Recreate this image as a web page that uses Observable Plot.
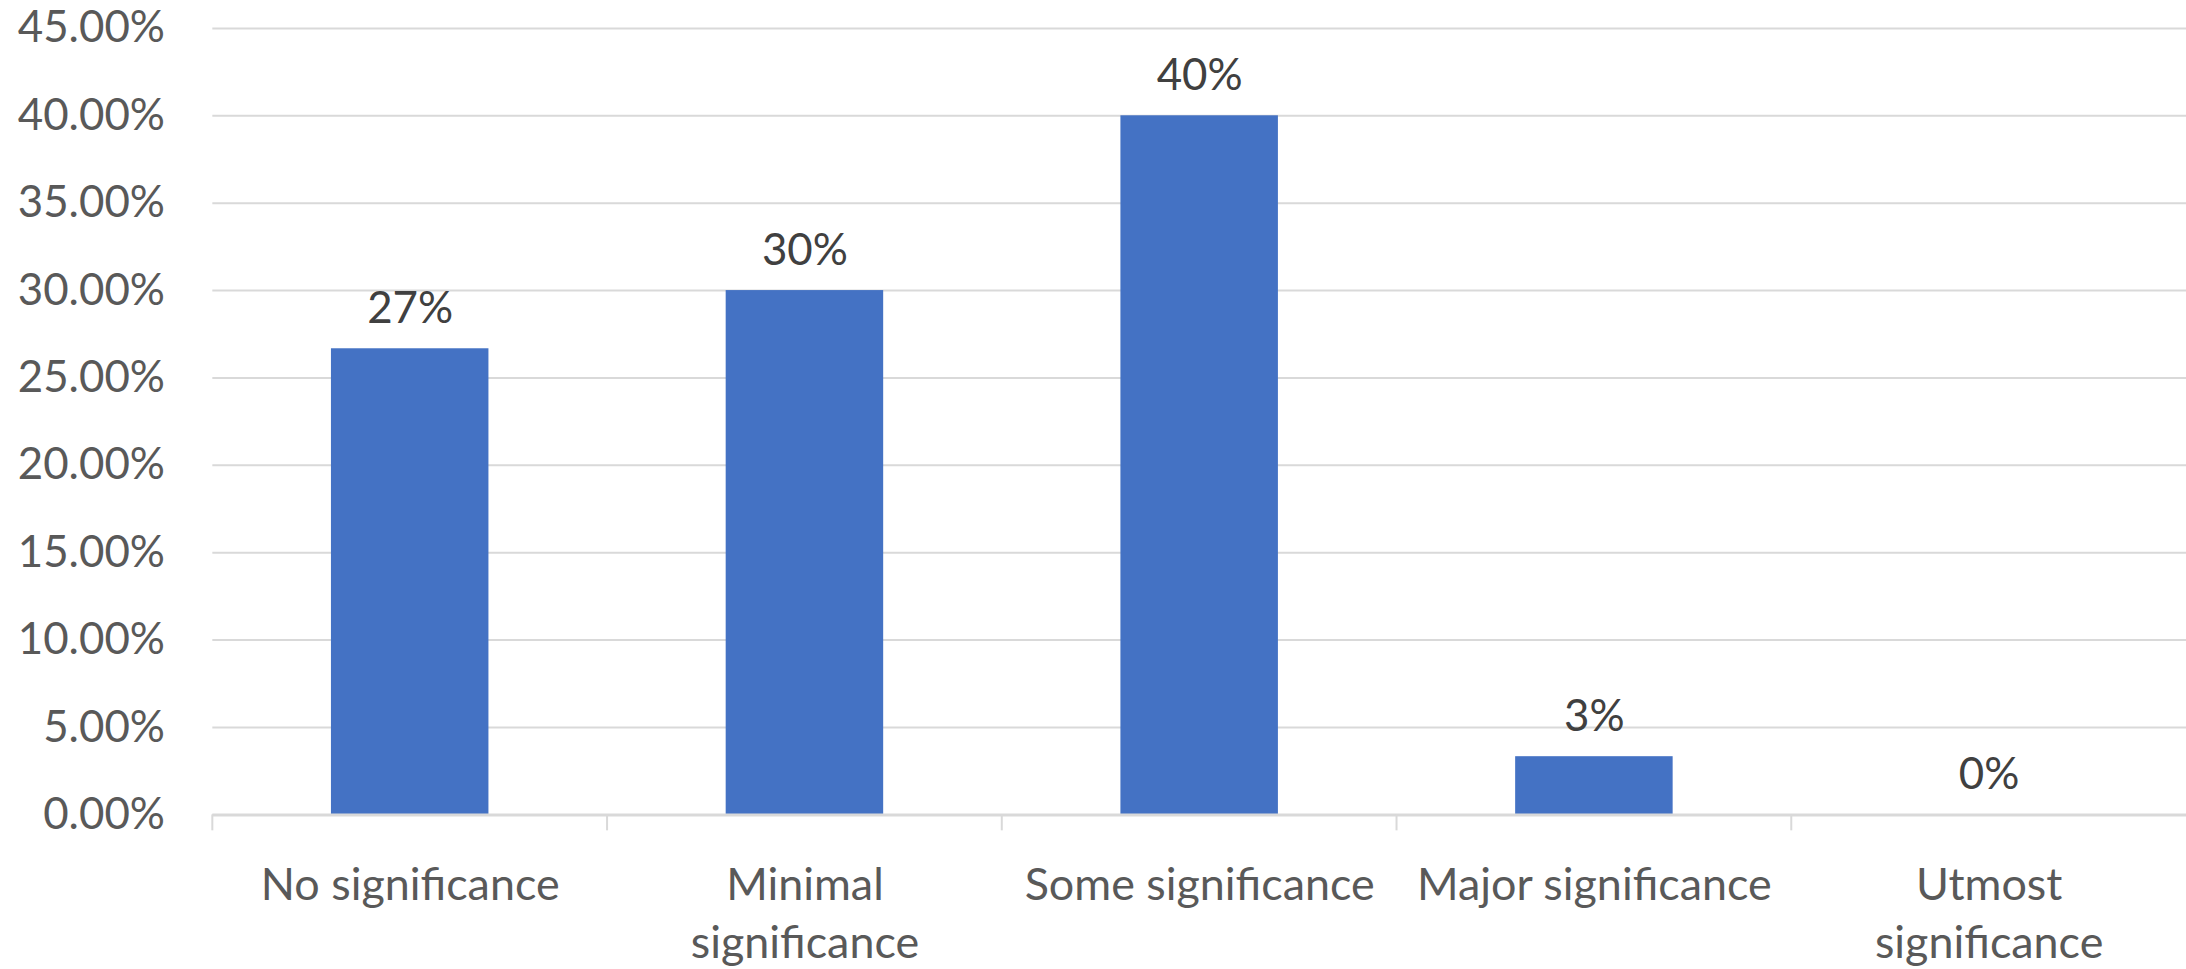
<!DOCTYPE html>
<html>
<head>
<meta charset="utf-8">
<script src="https://cdn.jsdelivr.net/npm/d3@7"></script>
<script src="https://cdn.jsdelivr.net/npm/@observablehq/plot@0.6"></script>
<style>
  html, body { margin: 0; padding: 0; background: #ffffff; overflow: hidden; }
  #chart { width: 2186px; height: 969px; overflow: hidden; }
</style>
</head>
<body>
<div id="chart"></div>
<script>
const categories = ["No significance", "Minimal significance", "Some significance", "Major significance", "Utmost significance"];
const categoryLabels = ["No significance", "Minimal\nsignificance", "Some significance", "Major significance", "Utmost\nsignificance"];
const shares = [0.2667, 0.30, 0.40, 0.0333, 0];
const dataLabels = ["27%", "30%", "40%", "3%", "0%"];
const yTicks = [0, 0.05, 0.10, 0.15, 0.20, 0.25, 0.30, 0.35, 0.40, 0.45];

const data = categories.map((c, i) => ({category: c, share: shares[i], label: dataLabels[i]}));
const labelOf = new Map(categories.map((c, i) => [c, categoryLabels[i]]));

const FONT = "Lato, 'Open Sans', sans-serif";

// category-boundary tick marks (Excel style: ticks between categories)
const boundaryTicks = Plot.ruleX(categories, {
  x: d => d,
  render: (index, scales, values, dimensions) => {
    const xs = scales.x;
    const bw = typeof xs.bandwidth === "function" ? xs.bandwidth() : scales.scales.x.bandwidth;
    const step = typeof xs.step === "function" ? xs.step() : scales.scales.x.step;
    const y0 = scales.y(0);
    const g = d3.create("svg:g");
    for (const c of categories) {
      const bx = xs(c) + bw / 2 - step / 2;
      g.append("line")
        .attr("x1", bx).attr("x2", bx)
        .attr("y1", y0).attr("y2", y0 + 16)
        .attr("stroke", "#d9d9d9")
        .attr("stroke-width", 2);
    }
    return g.node();
  }
});

const chart = Plot.plot({
  width: 2193,
  height: 969,
  marginLeft: 213,
  marginRight: 0,
  marginTop: 28,
  marginBottom: 152,
  style: {fontFamily: FONT, background: "#ffffff", overflow: "visible"},
  x: {domain: categories, paddingInner: 0.6, paddingOuter: 0.3, axis: null},
  y: {domain: [0, 0.45], axis: null},
  marks: [
    Plot.gridY(yTicks, {stroke: "#d9d9d9", strokeOpacity: 1, strokeWidth: 2}),
    Plot.axisY(yTicks, {
      tickSize: 0, tickPadding: 48, tickFormat: d3.format(".2%"),
      fontSize: 44, fill: "#595959", label: null, fontFamily: FONT
    }),
    Plot.barY(data, {x: "category", y: "share", fill: "#4472c4"}),
    Plot.ruleY([0], {stroke: "#d9d9d9", strokeWidth: 3}),
    boundaryTicks,
    Plot.axisX({
      tickSize: 0, tickPadding: 44, tickFormat: d => labelOf.get(d),
      fontSize: 45, fill: "#595959", label: null, lineHeight: 1.3, fontFamily: FONT
    }),
    Plot.text(data, {
      x: "category", y: "share", text: "label",
      lineAnchor: "bottom", dy: -26,
      fontSize: 44, fill: "#404040", fontFamily: FONT
    })
  ]
});

document.getElementById("chart").appendChild(chart);
</script>
</body>
</html>
